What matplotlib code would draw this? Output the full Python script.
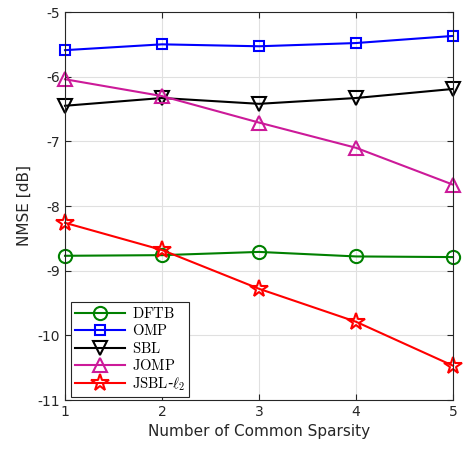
import matplotlib.pyplot as plt

plt.rcParams['mathtext.fontset'] = 'cm'

sparsity = [1, 2, 3, 4, 5]
dftb = [-8.77, -8.76, -8.71, -8.78, -8.79]
omp = [-5.59, -5.50, -5.53, -5.48, -5.37]
sbl = [-6.45, -6.33, -6.42, -6.33, -6.19]
jomp = [-6.04, -6.30, -6.71, -7.10, -7.67]
jsbl = [-8.26, -8.68, -9.28, -9.79, -10.47]

fig = plt.figure(figsize=(4.63, 4.49), dpi=100)
ax = fig.add_axes([65 / 463, 49 / 449, 388 / 463, 388 / 449])

ax.plot(sparsity, dftb, '-o', color=(0, 0.5, 0), lw=1.5, ms=9.5, mew=1.5,
        fillstyle='none', label=r'$\mathrm{DFTB}$', clip_on=False)
ax.plot(sparsity, omp, '-s', color='blue', lw=1.5, ms=7.5, mew=1.5,
        fillstyle='none', label=r'$\mathrm{OMP}$', clip_on=False)
ax.plot(sparsity, sbl, '-v', color='black', lw=1.5, ms=10.5, mew=1.5,
        fillstyle='none', label=r'$\mathrm{SBL}$', clip_on=False)
ax.plot(sparsity, jomp, '-^', color='#cc1a99', lw=1.5, ms=10.5, mew=1.5,
        fillstyle='none', label=r'$\mathrm{JOMP}$', clip_on=False)
ax.plot(sparsity, jsbl, '-*', color='red', lw=1.5, ms=13, mew=1.5,
        fillstyle='none', label=r'$\mathrm{JSBL}$-$\ell_2$', clip_on=False)

ax.set_xlim(1, 5)
ax.set_ylim(-11, -5)
ax.set_xticks([1, 2, 3, 4, 5])
ax.set_yticks([-11, -10, -9, -8, -7, -6, -5])
ax.set_yticklabels(['-11', '-10', '-9', '-8', '-7', '-6', '-5'])
ax.grid(True, color='#e0e0e0', lw=0.8)
ax.set_axisbelow(True)
ax.tick_params(direction='in', length=4, labelsize=10, color='#262626',
               labelcolor='#262626', top=True, right=True)
for s in ax.spines.values():
    s.set_color('#262626')
    s.set_linewidth(0.8)
ax.set_xlabel('Number of Common Sparsity', fontsize=11, color='#262626')
ax.set_ylabel('NMSE [dB]', fontsize=11, color='#262626')

leg = ax.legend(loc='lower left', bbox_to_anchor=(0.015, 0.008), fontsize=10.5,
                fancybox=False, edgecolor='#262626', framealpha=1,
                handlelength=3.4, borderpad=0.3, labelspacing=0.15,
                handletextpad=0.5, borderaxespad=0)
leg.get_frame().set_linewidth(0.8)

fig.savefig('out.png', dpi=100)
